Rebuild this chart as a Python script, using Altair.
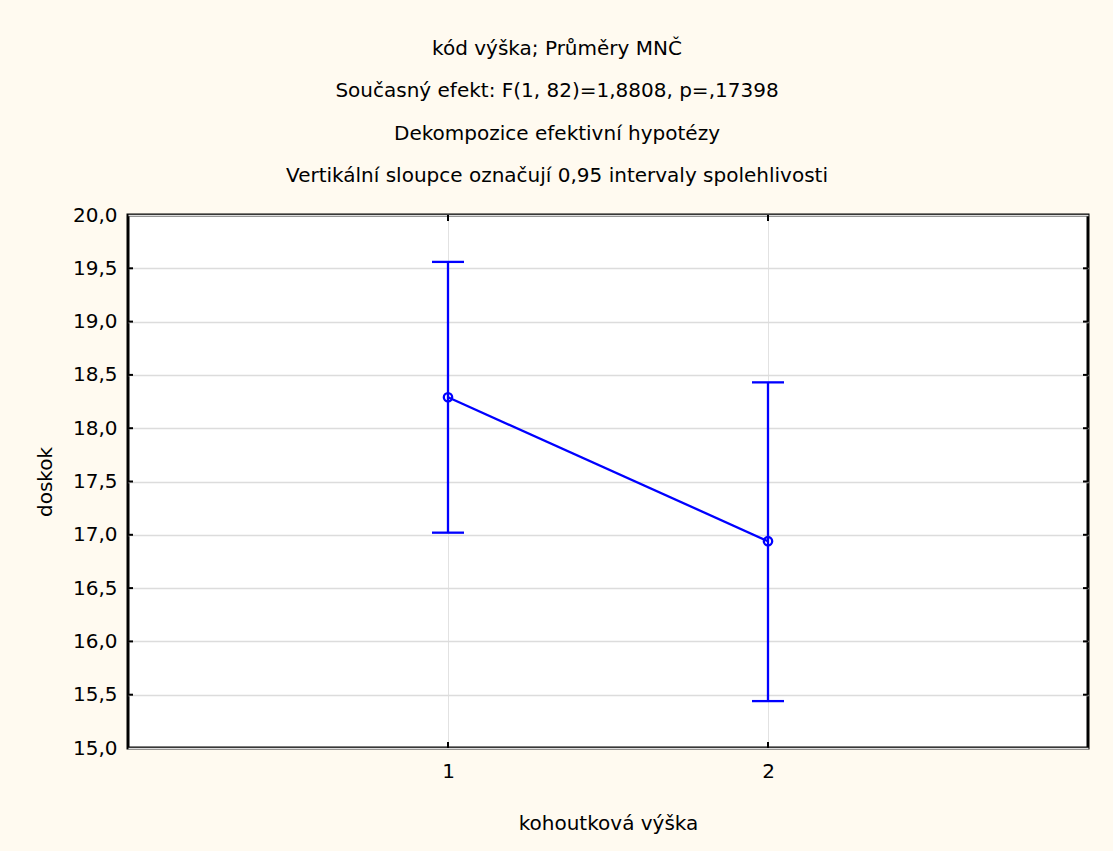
import altair as alt
import pandas as pd

# Least-squares means of "doskok" by "kohoutková výška" with 95 % confidence limits
groups = [1, 2]
means = [18.29, 16.94]
lower = [17.02, 15.44]
upper = [19.56, 18.43]

y_ticks = [15.0, 15.5, 16.0, 16.5, 17.0, 17.5, 18.0, 18.5, 19.0, 19.5, 20.0]
inner_y_ticks = y_ticks[1:-1]
x_ticks = [1, 2]

title_lines = [
    "kód výška; Průměry MNČ",
    "Současný efekt: F(1, 82)=1,8808, p=,17398",
    "Dekompozice efektivní hypotézy",
    "Vertikální sloupce označují 0,95 intervaly spolehlivosti",
]

FONT = "DejaVu Sans"
FS = 20
BLUE = "#0000FF"
W, H = 960, 533

df = pd.DataFrame({"g": groups, "mean": means, "lo": lower, "hi": upper})
ydf = pd.DataFrame({"v": inner_y_ticks})
xdf = pd.DataFrame({"v": x_ticks})

x_scale = alt.Scale(domain=[0, 3], nice=False, zero=False)
y_scale = alt.Scale(domain=[15, 20], nice=False, zero=False)

x_axis = alt.Axis(
    values=x_ticks, format="d", title="kohoutková výška",
    grid=True, gridColor="#e2e2e2", gridWidth=1,
    domain=False, ticks=False, labelPadding=13, titlePadding=32,
    labelFontSize=FS, titleFontSize=FS, labelFont=FONT, titleFont=FONT,
    labelColor="black", titleColor="black", titleFontWeight="normal",
)
y_axis = alt.Axis(
    values=y_ticks, title="doskok",
    labelExpr="replace(format(datum.value, '.1f'), '.', ',')",
    grid=True, gridColor="#dcdcdc", gridWidth=1.5,
    domain=False, ticks=False, labelPadding=11, titlePadding=17,
    labelFontSize=FS, titleFontSize=FS, labelFont=FONT, titleFont=FONT,
    labelColor="black", titleColor="black", titleFontWeight="normal",
)

base = alt.Chart(df)
SW = 2.3

# mean line with hollow markers
line = base.mark_line(color=BLUE, strokeWidth=SW).encode(
    x=alt.X("g:Q", scale=x_scale, axis=x_axis),
    y=alt.Y("mean:Q", scale=y_scale, axis=y_axis),
)
points = base.mark_point(color=BLUE, filled=False, size=70, strokeWidth=SW, opacity=1).encode(
    x=alt.X("g:Q", scale=x_scale),
    y=alt.Y("mean:Q", scale=y_scale),
)

# confidence interval whiskers and caps
whisker = base.mark_rule(color=BLUE, strokeWidth=SW).encode(
    x=alt.X("g:Q", scale=x_scale),
    y=alt.Y("lo:Q", scale=y_scale),
    y2="hi:Q",
)
cap_hi = base.mark_tick(color=BLUE, orient="horizontal", size=32, thickness=SW, opacity=1).encode(
    x=alt.X("g:Q", scale=x_scale),
    y=alt.Y("hi:Q", scale=y_scale),
)
cap_lo = base.mark_tick(color=BLUE, orient="horizontal", size=32, thickness=SW, opacity=1).encode(
    x=alt.X("g:Q", scale=x_scale),
    y=alt.Y("lo:Q", scale=y_scale),
)

# inward tick marks on all four sides of the frame
tick_style = dict(color="black", strokeWidth=2)
left_ticks = alt.Chart(ydf).mark_rule(**tick_style).encode(
    y=alt.Y("v:Q", scale=y_scale), x=alt.value(0), x2=alt.value(5)
)
right_ticks = alt.Chart(ydf).mark_rule(**tick_style).encode(
    y=alt.Y("v:Q", scale=y_scale), x=alt.value(W - 5), x2=alt.value(W)
)
bottom_ticks = alt.Chart(xdf).mark_rule(**tick_style).encode(
    x=alt.X("v:Q", scale=x_scale), y=alt.value(H - 6), y2=alt.value(H)
)
top_ticks = alt.Chart(xdf).mark_rule(**tick_style).encode(
    x=alt.X("v:Q", scale=x_scale), y=alt.value(0), y2=alt.value(6)
)

chart = (
    alt.layer(line, whisker, cap_hi, cap_lo, points,
              left_ticks, right_ticks, bottom_ticks, top_ticks)
    .properties(
        width=W,
        height=H,
        title=alt.TitleParams(
            text=title_lines, fontSize=FS, font=FONT, fontWeight="normal",
            color="black", lineHeight=42.5, anchor="middle", dx=-51, offset=19,
        ),
        autosize=alt.AutoSizeParams(type="none"),
        padding={"left": 128, "top": 215, "right": 25, "bottom": 103},
        background="#FFFAF0",
    )
    .configure_view(fill="white", stroke="black", strokeWidth=3)
)

chart.save("out.html", embed_options={"renderer": "svg", "actions": False})
